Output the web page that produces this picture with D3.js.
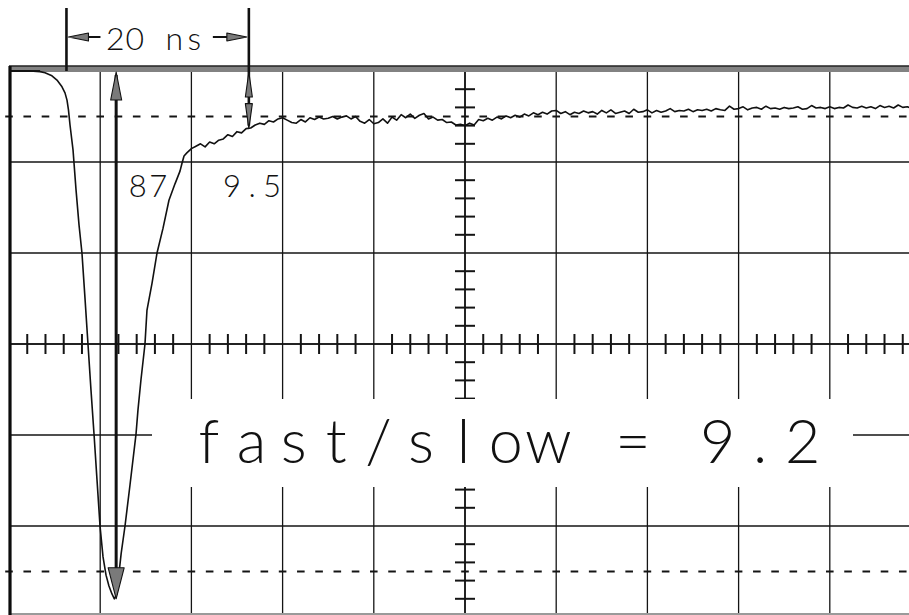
<!DOCTYPE html>
<html>
<head>
<meta charset="utf-8">
<script src="https://cdn.jsdelivr.net/npm/d3@7"></script>
<style>
  html, body { margin: 0; padding: 0; background: #fff; }
  svg { display: block; }
</style>
</head>
<body>
<svg id="scope" width="909" height="615"></svg>
<script>
// Oscilloscope screen: 10 ns per division horizontally, 15 mV per division vertically
const timeGrid = [0, 10, 20, 30, 40, 50, 60, 70, 80, 90, 100];          // ns
const voltGrid = [-90, -75, -60, -45, -30, -15, 0];                       // mV
const minorTimeStep = 2;     // ns, five minor ticks per division
const minorVoltStep = 3;     // mV
const timeCenter = 50;
const voltCenter = -45;
const cursorLevels = [-7.5, -82.5];                                       // dashed cursor lines (mV)

// Fast pulse: falling edge, peak and recovery (time ns, amplitude mV)
const pulseTime = [0, 2.3, 3.4, 3.95, 4.71, 5.26, 5.81, 6.14, 6.36, 6.52, 6.69, 7.02, 7.35, 7.68,
  8.0, 8.33, 8.66, 8.99, 9.32, 9.65, 9.98, 10.31, 10.64, 10.96, 11.29, 11.55, 11.84, 12.0, 12.3,
  12.72, 13.27, 13.93, 14.14, 14.47, 14.91, 15.13, 15.68, 16.23, 16.89, 17.54, 18.2, 18.75, 18.97, 19.19];
const pulseVolt = [0, 0, -0.1, -0.3, -0.8, -1.5, -2.6, -3.6, -4.8, -6.4, -8.9, -13.0, -19.6, -25.4,
  -30.0, -37.4, -45.0, -52.6, -59.8, -67.4, -75.0, -80.1, -83.1, -84.9, -86.2, -87.0, -86.2, -83.6, -79.5,
  -75.0, -68.2, -59.8, -55.9, -50.9, -45.0, -39.4, -35.0, -30.0, -25.9, -21.3, -18.6, -16.5, -15.2, -14.0];

// Slow tail, sampled every 0.5 ns from 19.5 ns (mV)
const tailStart = 19.5;
const tailStep = 0.5;
const tailVolt = [
  -13.5, -12.8, -12.4, -12.0, -12.5, -11.7, -12.0, -11.4, -11.2, -10.5,
  -10.8, -10.0, -10.2, -9.5, -9.4, -8.9, -8.6, -8.8, -8.2, -8.4,
  -7.9, -7.7, -8.1, -8.5, -8.6, -8.0, -8.4, -7.7, -8.0, -7.6,
  -7.9, -7.8, -7.5, -7.9, -7.6, -7.4, -7.9, -7.5, -8.3, -8.6,
  -8.0, -8.7, -8.5, -7.9, -8.6, -7.6, -8.1, -7.2, -7.7, -7.1,
  -7.8, -7.3, -7.0, -7.9, -7.6, -8.1, -8.0, -8.5, -8.4, -8.9,
  -8.8, -9.0, -8.6, -8.9, -8.0, -8.2, -7.8, -8.1, -7.6, -7.9,
  -7.4, -7.7, -7.3, -7.6, -7.1, -7.4, -6.9, -7.2, -6.8, -7.1,
  -6.6, -6.5, -7.0, -6.7, -7.2, -6.8, -7.0, -6.6, -6.9, -6.7,
  -7.1, -6.5, -6.9, -6.4, -7.0, -6.8, -6.6, -7.0, -6.3, -6.8,
  -6.7, -6.4, -6.9, -6.5, -6.8, -6.6, -6.2, -6.7, -6.5, -6.6,
  -6.3, -6.7, -6.4, -6.5, -6.3, -6.6, -6.2, -6.4, -6.5, -5.8,
  -6.3, -6.2, -5.9, -6.4, -6.1, -6.0, -6.3, -5.8, -6.2, -6.1,
  -6.3, -6.0, -6.2, -6.1, -5.9, -6.3, -6.2, -5.7, -6.1, -6.0,
  -6.2, -5.9, -6.2, -6.0, -6.1, -5.6, -6.0, -6.1, -5.8, -6.1,
  -5.9, -6.2, -5.7, -6.0, -5.8, -6.1, -5.6, -6.0, -5.9, -6.2, -5.8];

// Measurements
const fastAmp = 87;          // mV, peak of fast component
const slowAmp = 9.5;         // mV, slow component 20 ns later
const peakTime = 11.75;      // ns
const gateStart = 6.3;       // ns
const gateWidth = 20;        // ns
const ratioLabel = "fast/slow = 9.2";

const svg = d3.select("#scope");
const x = d3.scaleLinear().domain([0, 100]).range([9, 921]);
const y = d3.scaleLinear().domain([-90, 0]).range([617, 71]);
const ink = "#141414";

// ---- graticule ----
const grid = svg.append("g");
grid.selectAll("line.v").data(timeGrid.filter(t => t > 0)).join("line")
  .attr("x1", d => x(d)).attr("x2", d => x(d))
  .attr("y1", y(0)).attr("y2", y(-90))
  .attr("stroke", ink).attr("stroke-width", 1.3);
grid.selectAll("line.h").data(voltGrid.filter(v => v > -90 && v < 0)).join("line")
  .attr("x1", x(0)).attr("x2", x(100))
  .attr("y1", d => y(d)).attr("y2", d => y(d))
  .attr("stroke", ink).attr("stroke-width", 1.3);

// centre axes with minor ticks
const minorT = d3.range(0, 100.001, minorTimeStep).filter(t => t % 10 !== 0);
const minorV = d3.range(-90, 0.001, minorVoltStep).filter(v => v % 15 !== 0);
grid.append("line").attr("x1", x(0)).attr("x2", x(100))
  .attr("y1", y(voltCenter)).attr("y2", y(voltCenter))
  .attr("stroke", ink).attr("stroke-width", 1.6);
grid.append("line").attr("x1", x(timeCenter)).attr("x2", x(timeCenter))
  .attr("y1", y(0)).attr("y2", y(-90))
  .attr("stroke", ink).attr("stroke-width", 1.6);
grid.selectAll("line.tt").data(minorT).join("line")
  .attr("x1", d => x(d)).attr("x2", d => x(d))
  .attr("y1", y(voltCenter) - 10).attr("y2", y(voltCenter) + 10)
  .attr("stroke", ink).attr("stroke-width", 2);
grid.selectAll("line.tv").data(minorV).join("line")
  .attr("x1", x(timeCenter) - 10).attr("x2", x(timeCenter) + 10)
  .attr("y1", d => y(d)).attr("y2", d => y(d))
  .attr("stroke", ink).attr("stroke-width", 2);

// dashed cursor levels, one dash per minor division
cursorLevels.forEach(level => {
  grid.selectAll(null).data(d3.range(0, 100.001, minorTimeStep)).join("line")
    .attr("x1", d => x(d) - 3.8).attr("x2", d => x(d) + 3.8)
    .attr("y1", y(level)).attr("y2", y(level))
    .attr("stroke", ink).attr("stroke-width", 2);
});

// blank band behind the ratio readout
svg.append("rect")
  .attr("x", 152).attr("y", 399).attr("width", 701).attr("height", 88)
  .attr("fill", "#fff");

// screen frame: heavy top and bottom bands, left edge
svg.append("rect").attr("x", x(0)).attr("y", y(0) - 5).attr("width", 909).attr("height", 6)
  .attr("fill", "#828282");
svg.append("line").attr("x1", x(0)).attr("x2", 909).attr("y1", y(0) - 5).attr("y2", y(0) - 5)
  .attr("stroke", "#222").attr("stroke-width", 1.6);
svg.append("rect").attr("x", x(0)).attr("y", y(-90) - 4).attr("width", 909).attr("height", 6)
  .attr("fill", "#9a9a9a");
svg.append("line").attr("x1", x(0) + 1).attr("x2", x(0) + 1).attr("y1", y(0) - 5).attr("y2", 615)
  .attr("stroke", "#0c0c0c").attr("stroke-width", 3.2);

// ---- waveform ----
const trace = pulseTime.map((t, i) => [t, pulseVolt[i]])
  .concat(tailVolt.map((v, i) => [tailStart + i * tailStep, v]));
svg.append("path")
  .attr("d", d3.line().x(d => x(d[0])).y(d => y(d[1]))(trace))
  .attr("fill", "none").attr("stroke", "#111").attr("stroke-width", 1.6)
  .attr("stroke-linejoin", "round");
svg.append("line").attr("x1", x(0)).attr("x2", x(pulseTime[2])).attr("y1", y(0)).attr("y2", y(0))
  .attr("stroke", "#111").attr("stroke-width", 1.8);

// ---- measurement arrows ----
function head(tipX, tipY, dx, dy, len, hw) {
  const bx = tipX - dx * len, by = tipY - dy * len;
  const px = -dy * hw, py = dx * hw;
  return `M${tipX},${tipY}L${bx + px},${by + py}L${bx - px},${by - py}Z`;
}
const arrows = svg.append("g");
function drawHead(tx, ty, dx, dy, len, hw) {
  arrows.append("path").attr("d", head(tx, ty, dx, dy, len, hw))
    .attr("fill", "#7a7a7a").attr("stroke", "#111").attr("stroke-width", 1.1)
    .attr("stroke-linejoin", "round");
}

// fast amplitude: full pulse height
const xPeak = x(peakTime);
arrows.append("line").attr("x1", xPeak).attr("x2", xPeak)
  .attr("y1", y(0) + 4).attr("y2", y(-fastAmp) - 6)
  .attr("stroke", "#111").attr("stroke-width", 3);
drawHead(xPeak, y(0) + 1, 0, -1, 28, 5.5);
drawHead(xPeak, y(-fastAmp), 0, 1, 31, 8);

// 20 ns gate markers
const xg0 = x(gateStart), xg1 = x(gateStart + gateWidth);
const gateY = 37;
arrows.append("line").attr("x1", xg0).attr("x2", xg0).attr("y1", 8).attr("y2", y(0))
  .attr("stroke", "#111").attr("stroke-width", 2.6);
arrows.append("line").attr("x1", xg1).attr("x2", xg1).attr("y1", 8).attr("y2", y(-slowAmp) - 3)
  .attr("stroke", "#111").attr("stroke-width", 2.6);
arrows.append("line").attr("x1", xg0 + 10).attr("x2", xg0 + 34).attr("y1", gateY).attr("y2", gateY)
  .attr("stroke", "#111").attr("stroke-width", 2);
arrows.append("line").attr("x1", xg1 - 36).attr("x2", xg1 - 10).attr("y1", gateY).attr("y2", gateY)
  .attr("stroke", "#111").attr("stroke-width", 2);
drawHead(xg0 + 2, gateY, -1, 0, 20, 4);
drawHead(xg1 - 2, gateY, 1, 0, 20, 4);

// slow amplitude at the end of the gate
drawHead(xg1, y(0) + 1, 0, -1, 25, 3.5);
drawHead(xg1, y(-slowAmp), 0, 1, 25, 3.5);

// ---- text ----
const font = "Lato, 'DejaVu Sans', sans-serif";
function spaced(str, cx, pitch) {
  const n = str.length;
  return d3.range(n).map(i => (cx + (i - (n - 1) / 2) * pitch).toFixed(1)).join(" ");
}
const gateLabel = `${gateWidth} ns`;
svg.append("text").text(gateLabel)
  .attr("x", spaced(gateLabel, (xg0 + xg1) / 2 - 3, 19.75)).attr("y", 50)
  .attr("text-anchor", "middle").attr("font-family", font).attr("font-weight", 300)
  .attr("font-size", 32).attr("fill", "#111");
svg.append("text").text(String(fastAmp))
  .attr("x", spaced(String(fastAmp), 148, 20.5)).attr("y", 197)
  .attr("text-anchor", "middle").attr("font-family", font).attr("font-weight", 300)
  .attr("font-size", 31).attr("fill", "#111");
svg.append("text").text(String(slowAmp))
  .attr("x", spaced(String(slowAmp), 252, 20)).attr("y", 197)
  .attr("text-anchor", "middle").attr("font-family", font).attr("font-weight", 300)
  .attr("font-size", 31).attr("fill", "#111");
svg.append("text").text(ratioLabel)
  .attr("x", spaced(ratioLabel, 505.8, 42.4)).attr("y", 463)
  .attr("text-anchor", "middle").attr("font-family", font).attr("font-weight", 300)
  .attr("font-size", 61).attr("fill", "#111");
</script>
</body>
</html>
